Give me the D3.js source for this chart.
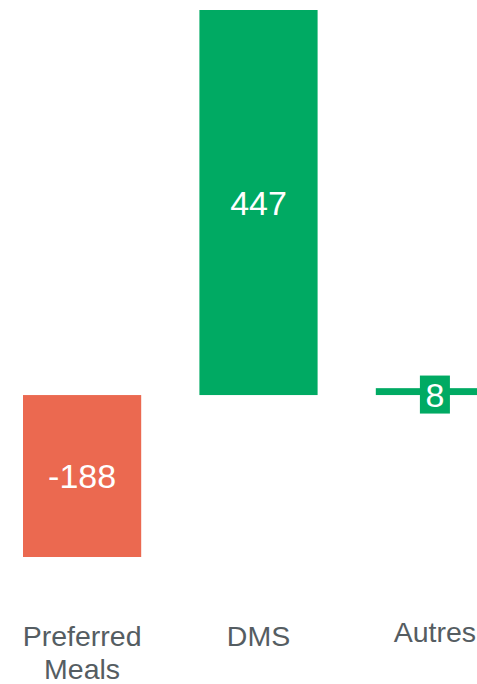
<!DOCTYPE html>
<html>
<head>
<meta charset="utf-8">
<script src="https://cdn.jsdelivr.net/npm/d3@7"></script>
<style>
  html, body { margin: 0; padding: 0; background: #fff; }
  svg { display: block; font-family: "Liberation Sans", Arial, Helvetica, sans-serif; }
</style>
</head>
<body>
<svg id="chart" width="477" height="684"></svg>
<script>
const categories = ["Preferred Meals", "DMS", "Autres"];
const labelLines = [["Preferred", "Meals"], ["DMS"], ["Autres"]];
const values = [-188, 447, 8];
const valueLabels = ["-188", "447", "8"];

const colorPos = "#00AA63";
const colorNeg = "#EB6950";
const textGrey = "#555d62";

const svg = d3.select("#chart");

const x = d3.scaleBand()
  .domain(categories)
  .range([23, 494])
  .paddingInner(0.33)
  .paddingOuter(0);

const y = d3.scaleLinear()
  .domain([-188, 447])
  .range([557, 10]);

const data = categories.map((c, i) => ({ cat: c, value: values[i], label: valueLabels[i], lines: labelLines[i] }));

// bars
svg.append("g").selectAll("rect")
  .data(data)
  .join("rect")
  .attr("x", d => x(d.cat))
  .attr("width", x.bandwidth())
  .attr("y", d => y(Math.max(0, d.value)))
  .attr("height", d => Math.abs(y(d.value) - y(0)))
  .attr("fill", d => d.value < 0 ? colorNeg : colorPos);

// value labels
const big = data.filter(d => Math.abs(y(d.value) - y(0)) > 40);
const small = data.filter(d => Math.abs(y(d.value) - y(0)) <= 40);

svg.append("g").selectAll("text")
  .data(big)
  .join("text")
  .attr("x", d => x(d.cat) + x.bandwidth() / 2)
  .attr("y", d => (y(d.value) + y(0)) / 2)
  .attr("text-anchor", "middle")
  .attr("dominant-baseline", "central")
  .attr("fill", "#fff")
  .attr("font-size", 34)
  .text(d => d.label);

// small bars: label with colored box
const sg = svg.append("g").selectAll("g")
  .data(small)
  .join("g")
  .attr("transform", d => `translate(${x(d.cat) + x.bandwidth() / 2},${y(0) - 0.5})`);
sg.append("rect")
  .attr("x", -15)
  .attr("y", -19)
  .attr("width", 30)
  .attr("height", 38)
  .attr("fill", d => d.value < 0 ? colorNeg : colorPos);
sg.append("text")
  .attr("text-anchor", "middle")
  .attr("dominant-baseline", "central")
  .attr("fill", "#fff")
  .attr("font-size", 34)
  .text(d => d.label);

// category labels
const cl = svg.append("g").selectAll("text")
  .data(data)
  .join("text")
  .attr("x", d => x(d.cat) + x.bandwidth() / 2)
  .attr("y", (d, i) => i === 2 ? 642 : 646)
  .attr("text-anchor", "middle")
  .attr("fill", textGrey)
  .attr("font-size", 28.5);
cl.selectAll("tspan")
  .data(d => d.lines.map(l => ({ l, x: x(d.cat) + x.bandwidth() / 2 })))
  .join("tspan")
  .attr("x", t => t.x)
  .attr("dy", (t, i) => i === 0 ? 0 : 33)
  .text(t => t.l);
</script>
</body>
</html>
